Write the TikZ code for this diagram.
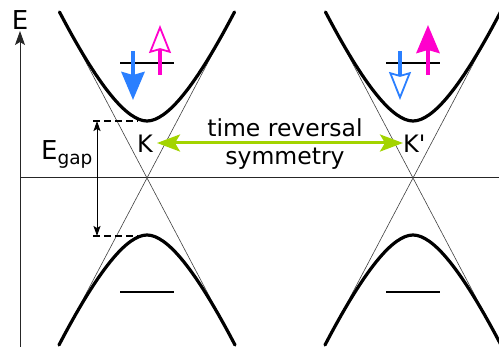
\documentclass[tikz,border=0pt]{standalone}
\usepackage{fontspec}
\setmainfont{DejaVu Sans}
\newfontfamily\kfont{DejaVu Sans}
\usetikzlibrary{arrows.meta}
\definecolor{spinblue}{RGB}{42,127,255}
\definecolor{spinpink}{RGB}{255,0,204}
\definecolor{trsgreen}{RGB}{163,212,0}
\begin{document}
\begin{tikzpicture}[x=1pt,y=-1pt,
  band/.style={line width=3.2pt, line cap=round, black},
  cone/.style={line width=0.6pt, black!75},
  axis/.style={line width=1pt, black!85},
  level/.style={line width=1.5pt, black},
  gapline/.style={line width=1.2pt, black, dash pattern=on 7pt off 4pt},
  spinfull/.style={line width=4.2pt, -{Stealth[length=28pt,width=23pt,inset=3pt]}},
  spinopen/.style={line width=4.2pt, -{Stealth[open,fill=white,length=28pt,width=22pt,inset=3pt,line width=1.8pt]}},
  lab/.style={inner sep=0pt, font=\kfont\fontsize{24}{24}\selectfont},
  biglab/.style={inner sep=0pt, font=\fontsize{26}{26}\selectfont},
  trstext/.style={inner sep=0pt, anchor=base, font=\fontsize{23.5}{28}\selectfont}]
\useasboundingbox (0,0) rectangle (499,347);
\begin{scope}
\clip (0,0) rectangle (499,347);
% axes
\coordinate (axB) at (20,347);
\coordinate (axT) at (20,31);
\coordinate (axL) at (20,178);
\coordinate (axR) at (499,178);
\draw[axis] (axL) -- (axR);
\draw[axis, -{Stealth[length=14pt,width=10pt,inset=3pt]}] (axB) -- (axT);
% cones and bands
\foreach \cx/\nm in {147/K,413/Kp}{
  \coordinate (\nm) at (\cx,178);
  \coordinate (\nm-tl) at ({\cx-87.5},12);
  \coordinate (\nm-tr) at ({\cx+87.5},12);
  \coordinate (\nm-bl) at ({\cx-88},345);
  \coordinate (\nm-br) at ({\cx+88},345);
  \draw[cone] (\nm-tl) -- (\nm) -- (\nm-br);
  \draw[cone] (\nm-tr) -- (\nm) -- (\nm-bl);
  \draw[band] (\nm-tl) .. controls ({\cx-48.4},86.7) and ({\cx-20},121) .. ({\cx},121)
     .. controls ({\cx+20},121) and ({\cx+48.4},86.7) .. (\nm-tr);
  \draw[band] (\nm-bl) .. controls ({\cx-48.4},269.3) and ({\cx-20},235) .. ({\cx},235)
     .. controls ({\cx+20},235) and ({\cx+48.4},269.3) .. (\nm-br);
  \coordinate (\nm-ul) at ({\cx-27},63);
  \coordinate (\nm-ur) at ({\cx+27},63);
  \coordinate (\nm-ll) at ({\cx-27},292);
  \coordinate (\nm-lr) at ({\cx+27},292);
  \draw[level] (\nm-ul) -- (\nm-ur);
  \draw[level] (\nm-ll) -- (\nm-lr);
}
\end{scope}
% spins at K
\coordinate (b1s) at (133,51);  \coordinate (b1e) at (133,100);
\coordinate (p1s) at (160,75);  \coordinate (p1e) at (160,25);
\draw[spinfull, spinblue] (b1s) -- (b1e);
\draw[spinopen, spinpink] (p1s) -- (p1e);
% spins at K'
\coordinate (b2s) at (400,51);  \coordinate (b2e) at (400,100);
\coordinate (p2s) at (428,75);  \coordinate (p2e) at (428,25);
\draw[spinopen, spinblue] (b2s) -- (b2e);
\draw[spinfull, spinpink] (p2s) -- (p2e);
% gap
\coordinate (gT) at (97,121);
\coordinate (gB) at (97,236);
\coordinate (dTa) at (93,121); \coordinate (dTb) at (138,121);
\coordinate (dBa) at (93,236); \coordinate (dBb) at (138,236);
\draw[gapline] (dTa) -- (dTb);
\draw[gapline] (dBa) -- (dBb);
\draw[line width=1pt, {Stealth[length=10pt,width=7pt,inset=2pt]}-{Stealth[length=10pt,width=7pt,inset=2pt]}] (gT) -- (gB);
\node[biglab, anchor=base west] (egap) at (41,160) {E\raisebox{-4.5pt}{\fontsize{18.5}{18.5}\selectfont gap}};
\node[biglab, anchor=base] (elab) at (20,30) {E};
% labels
\node[lab, anchor=base west] (klab) at (137,153) {K};
\node[lab, anchor=base west] (kplab) at (403,153) {K'};
% time reversal
\coordinate (trsL) at (157,143);
\coordinate (trsR) at (403,143);
\draw[trsgreen, line width=3pt, {Stealth[length=23pt,width=17pt,inset=5pt]}-{Stealth[length=23pt,width=17pt,inset=5pt]}] (trsL) -- (trsR);
\node[trstext] (t1) at (285,137) {time reversal};
\node[trstext] (t2) at (285,165) {symmetry};
\end{tikzpicture}
\end{document}
